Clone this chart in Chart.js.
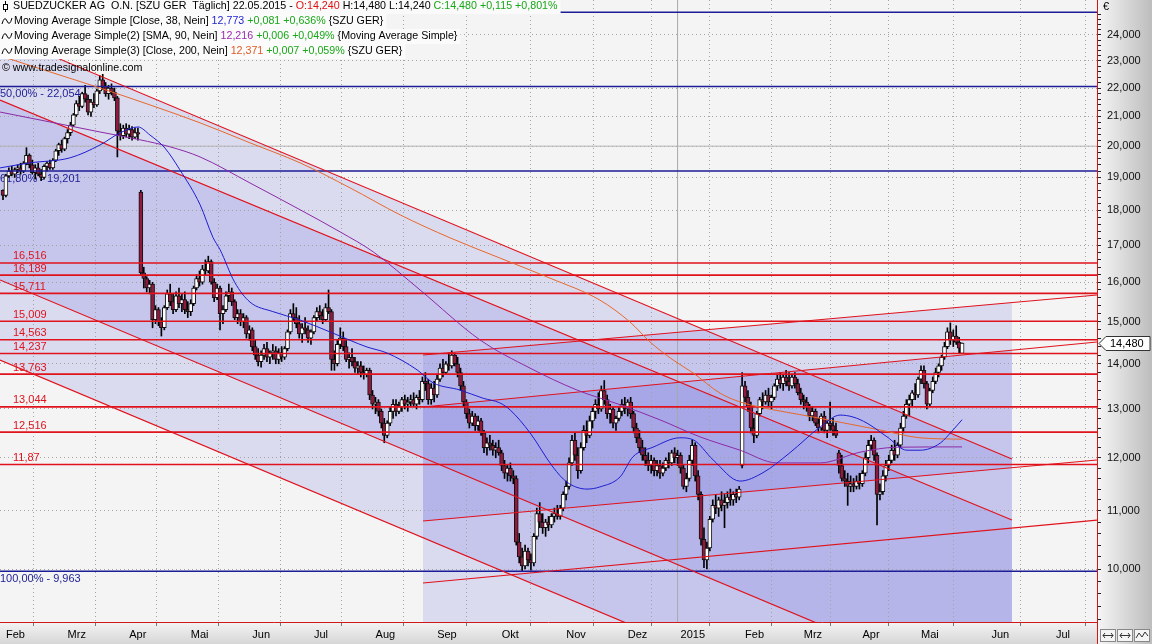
<!DOCTYPE html>
<html>
<head>
<meta charset="utf-8">
<script src="https://cdn.jsdelivr.net/npm/chart.js@4.4.1/dist/chart.umd.min.js"></script>
<style>
  html, body { margin: 0; padding: 0; background: #f4f4f4; overflow: hidden; }
  canvas { display: block; }
</style>
</head>
<body>
<canvas id="chart" width="1152" height="644"></canvas>
<script>
// SZU GER daily, Feb 2014 - 22.05.2015 (x = trading day index)
const MONTH_LABELS = ["Feb","Mrz","Apr","Mai","Jun","Jul","Aug","Sep","Okt","Nov","Dez","2015","Feb","Mrz","Apr","Mai","Jun","Jul"];
const MONTH_TICKS  = [0,21,42,63,84,105,126,147,169,191,212,230,252,272,292,312,336,358];
const YEAR_TICK = 230;

const OPEN = [
  18.60,18.45,19.05,19.20,19.10,19.25,19.30,19.20,19.45,19.70, 19.40,19.15,19.30,19.10,19.00,19.35,19.45,19.30,19.55,19.85,
  20.05,19.90,20.25,20.45,20.70,21.05,21.45,21.35,21.80,21.60, 21.15,21.50,21.40,21.90,22.30,22.05,21.80,22.00,21.85,21.65,
  20.50,20.35,20.60,20.40,20.55,20.30,20.45,18.55,16.25,16.10, 15.85,15.95,15.05,15.30,15.00,14.85,15.35,15.70,15.50,15.30,
  15.65,15.45,15.55,15.30,15.25,15.45,15.85,16.10,16.00,16.35, 16.30,16.55,16.00,15.60,15.85,15.20,15.30,15.65,15.75,15.50,
  15.10,15.20,15.00,15.10,14.70,14.80,14.40,14.20,14.05,14.20, 14.35,14.15,14.25,14.30,14.10,14.25,14.15,14.35,14.75,15.20,
  15.10,14.95,14.70,14.85,14.80,14.60,14.75,15.10,15.25,15.15, 15.05,15.35,15.25,14.10,14.00,14.45,14.60,14.40,14.10,14.15,
  14.05,13.90,13.95,13.80,13.75,13.85,13.30,13.10,13.15,12.95, 12.70,12.45,12.70,12.95,13.10,12.95,13.05,13.20,13.10,13.15,
  13.20,13.10,13.25,13.20,13.60,13.55,13.20,13.45,13.30,13.65, 13.90,13.80,14.00,13.95,14.20,14.00,13.80,13.50,13.15,12.90,
  12.70,12.85,12.65,12.75,12.50,12.20,12.30,12.25,12.15,12.20, 12.10,11.85,11.70,11.80,11.65,11.60,10.45,10.20,10.05,10.30,
  10.15,10.10,10.55,10.95,10.80,10.70,10.80,10.75,10.90,10.95, 10.90,11.05,11.30,11.45,11.90,12.35,12.05,11.75,12.20,12.55,
  12.45,12.75,12.95,13.10,13.00,13.40,13.20,12.90,13.00,12.70, 12.80,12.95,13.10,13.00,13.15,12.90,12.60,12.40,12.20,12.05,
  11.95,11.85,11.95,11.75,11.85,11.70,11.80,11.95,11.90,12.10, 12.00,12.05,11.80,11.45,11.60,11.95,12.25,11.65,11.30,10.50,
  10.15,10.35,10.85,11.10,11.05,11.20,11.10,11.15,11.25,11.20, 11.30,11.25,11.85,13.50,13.25,13.05,12.60,12.45,12.90,13.20,
  13.15,13.30,13.15,13.25,13.50,13.65,13.55,13.70,13.60,13.50, 13.70,13.55,13.35,13.20,13.15,13.05,12.85,12.95,12.70,12.60,
  12.85,12.55,12.70,12.65,12.55,12.10,11.85,11.60,11.55,11.45, 11.50,11.45,11.55,11.50,11.70,12.00,12.25,12.35,12.05,11.30,
  11.35,11.65,11.85,11.95,12.15,12.05,12.25,12.60,12.85,13.10, 13.20,13.35,13.30,13.65,13.85,13.55,13.10,13.40,13.60,13.80,
  13.95,14.15,14.40,14.75,14.55,14.65,14.50,14.24
];
const HIGH = [
  18.62,19.10,19.30,19.35,19.30,19.40,19.45,19.50,19.95,19.75, 19.55,19.40,19.45,19.25,19.40,19.50,19.55,19.60,19.90,20.10,
  20.20,20.30,20.55,20.80,21.10,21.55,21.70,21.85,22.10,21.75, 21.60,21.80,21.95,22.45,22.50,22.20,22.10,22.15,22.00,21.70,
  20.75,20.70,20.75,20.70,20.65,20.60,20.60,18.60,16.40,16.15, 16.05,16.00,15.40,15.35,15.10,15.40,15.80,15.95,15.70,15.75,
  15.85,15.70,15.75,15.50,15.55,15.90,16.20,16.30,16.45,16.60, 16.70,16.60,16.10,15.95,15.90,15.40,15.75,15.95,15.85,15.55,
  15.30,15.30,15.20,15.15,14.90,14.85,14.55,14.35,14.30,14.45, 14.50,14.30,14.45,14.40,14.35,14.40,14.40,14.80,15.30,15.45,
  15.35,15.15,14.95,15.10,14.90,14.80,15.15,15.35,15.40,15.30, 15.45,15.80,15.30,14.30,14.55,14.85,14.75,14.55,14.25,14.35,
  14.15,14.05,14.05,13.95,13.90,13.90,13.40,13.25,13.20,13.00, 12.80,12.75,13.05,13.20,13.20,13.15,13.25,13.30,13.25,13.30,
  13.35,13.30,13.40,13.70,13.80,13.65,13.55,13.60,13.75,14.00, 14.10,14.05,14.25,14.30,14.25,14.15,13.90,13.60,13.20,13.00,
  12.95,12.90,12.85,12.80,12.55,12.40,12.45,12.35,12.30,12.35, 12.15,11.95,11.85,11.90,11.75,11.65,10.60,10.35,10.40,10.35,
  10.25,10.60,11.05,11.15,10.95,10.85,10.90,10.95,11.05,11.10, 11.10,11.35,11.55,12.00,12.45,12.50,12.20,12.30,12.65,12.75,
  12.85,13.05,13.20,13.35,13.50,13.62,13.30,13.10,13.05,12.85, 13.05,13.20,13.25,13.20,13.25,12.95,12.70,12.55,12.35,12.20,
  12.10,12.05,12.00,11.95,11.95,11.90,12.00,12.10,12.15,12.20, 12.15,12.10,11.85,11.70,12.05,12.35,12.30,11.75,11.35,10.70,
  10.45,10.90,11.20,11.30,11.25,11.35,11.30,11.35,11.40,11.35, 11.40,11.45,13.80,13.60,13.40,13.15,12.80,12.95,13.25,13.35,
  13.40,13.45,13.30,13.55,13.75,13.80,13.75,13.85,13.80,13.75, 13.80,13.65,13.45,13.30,13.25,13.10,13.05,13.00,12.80,12.90,
  12.95,12.75,13.15,12.80,12.70,12.15,12.05,11.75,11.70,11.65, 11.60,11.65,11.70,11.75,12.10,12.35,12.45,12.40,12.10,11.50,
  11.75,11.95,12.05,12.25,12.35,12.30,12.70,12.95,13.20,13.30, 13.40,13.55,13.70,13.95,13.95,13.60,13.45,13.70,13.90,14.00,
  14.20,14.50,14.85,14.97,14.80,14.90,14.62,14.48
];
const LOW = [
  18.32,18.40,19.00,19.05,19.00,19.15,19.10,19.15,19.40,19.30, 19.10,18.95,19.05,18.90,18.95,19.20,19.25,19.25,19.50,19.70,
  19.80,19.85,20.10,20.35,20.65,21.00,21.20,21.30,21.50,21.05, 21.00,21.30,21.35,21.80,21.95,21.70,21.60,21.75,21.55,19.65,
  20.20,20.25,20.30,20.25,20.20,20.25,20.20,16.20,15.85,15.75, 15.70,14.85,14.95,14.90,14.65,14.80,15.30,15.40,15.20,15.25,
  15.35,15.25,15.20,15.10,15.15,15.40,15.80,15.90,15.95,16.20, 16.25,15.95,15.50,15.55,14.80,14.95,15.25,15.50,15.40,15.05,
  14.95,14.90,14.85,14.60,14.55,14.30,14.10,13.95,13.92,14.10, 14.05,14.00,14.10,14.00,14.00,14.05,14.10,14.30,14.70,15.00,
  14.85,14.60,14.50,14.70,14.50,14.45,14.70,15.00,15.05,14.95, 15.00,15.20,13.85,13.85,13.95,14.35,14.30,14.05,13.90,13.95,
  13.80,13.75,13.70,13.65,13.70,13.20,13.00,12.90,12.85,12.60, 12.30,12.40,12.65,12.80,12.85,12.90,12.95,13.00,12.95,13.05,
  13.05,13.00,13.10,13.15,13.40,13.10,13.10,13.15,13.25,13.60, 13.70,13.75,13.85,13.90,13.95,13.70,13.40,13.05,12.80,12.60,
  12.65,12.55,12.55,12.45,12.10,12.05,12.15,12.05,12.00,12.05, 11.75,11.60,11.55,11.55,11.50,10.40,10.10,9.96,10.00,10.05,
  9.98,10.05,10.50,10.70,10.60,10.55,10.65,10.70,10.80,10.85, 10.85,11.00,11.20,11.40,11.85,11.95,11.60,11.70,12.15,12.30,
  12.40,12.60,12.80,12.90,12.95,13.10,12.80,12.70,12.60,12.55, 12.75,12.85,12.90,12.85,12.80,12.50,12.30,12.10,11.95,11.85,
  11.75,11.70,11.65,11.65,11.60,11.65,11.75,11.80,11.85,11.90, 11.85,11.70,11.40,11.35,11.55,11.85,11.55,11.20,10.40,10.02,
  10.00,10.30,10.80,10.95,10.90,11.00,10.70,11.05,11.10,11.10, 11.15,11.20,11.80,13.15,12.95,12.50,12.30,12.40,12.85,13.00,
  13.10,13.05,13.00,13.20,13.40,13.45,13.40,13.50,13.40,13.45, 13.45,13.30,13.10,13.00,12.95,12.75,12.75,12.65,12.50,12.55,
  12.50,12.40,12.55,12.45,12.40,11.70,11.55,11.45,11.10,11.35, 11.35,11.40,11.40,11.45,11.65,11.90,12.15,11.95,10.75,11.20,
  11.30,11.55,11.75,11.90,11.95,12.00,12.20,12.50,12.80,12.85, 13.05,13.20,13.25,13.55,13.45,13.00,13.05,13.35,13.55,13.70,
  13.85,14.10,14.35,14.45,14.40,14.45,14.25,14.24
];
const CLOSE = [
  18.45,19.05,19.20,19.10,19.25,19.30,19.20,19.45,19.70,19.40, 19.15,19.30,19.10,19.00,19.35,19.45,19.30,19.55,19.85,20.05,
  19.90,20.25,20.45,20.70,21.05,21.45,21.35,21.80,21.60,21.15, 21.50,21.40,21.90,22.30,22.05,21.80,22.00,21.85,21.65,20.50,
  20.35,20.60,20.40,20.55,20.30,20.45,20.40,16.25,16.10,15.85, 15.95,15.05,15.30,15.00,14.85,15.35,15.70,15.50,15.30,15.65,
  15.45,15.55,15.30,15.25,15.45,15.85,16.10,16.00,16.35,16.30, 16.55,16.00,15.60,15.85,15.20,15.30,15.65,15.75,15.50,15.10,
  15.20,15.00,15.10,14.70,14.80,14.40,14.20,14.05,14.20,14.35, 14.15,14.25,14.30,14.10,14.25,14.15,14.35,14.75,15.20,15.10,
  14.95,14.70,14.85,14.80,14.60,14.75,15.10,15.25,15.15,15.05, 15.35,15.25,14.10,14.00,14.45,14.60,14.40,14.10,14.15,14.05,
  13.90,13.95,13.80,13.75,13.85,13.30,13.10,13.15,12.95,12.70, 12.45,12.70,12.95,13.10,12.95,13.05,13.20,13.10,13.15,13.20,
  13.10,13.25,13.20,13.60,13.55,13.20,13.45,13.30,13.65,13.90, 13.80,14.00,13.95,14.20,14.00,13.80,13.50,13.15,12.90,12.70,
  12.85,12.65,12.75,12.50,12.20,12.30,12.25,12.15,12.20,12.10, 11.85,11.70,11.80,11.65,11.60,10.45,10.20,10.05,10.30,10.15,
  10.10,10.55,10.95,10.80,10.70,10.80,10.75,10.90,10.95,10.90, 11.05,11.30,11.45,11.90,12.35,12.05,11.75,12.20,12.55,12.45,
  12.75,12.95,13.10,13.00,13.40,13.20,12.90,13.00,12.70,12.80, 12.95,13.10,13.00,13.15,12.90,12.60,12.40,12.20,12.05,11.95,
  11.85,11.95,11.75,11.85,11.70,11.80,11.95,11.90,12.10,12.00, 12.05,11.80,11.45,11.60,11.95,12.25,11.65,11.30,10.50,10.15,
  10.35,10.85,11.10,11.05,11.20,11.10,11.15,11.25,11.20,11.30, 11.25,11.40,13.50,13.25,13.05,12.60,12.45,12.90,13.20,13.15,
  13.30,13.15,13.25,13.50,13.65,13.55,13.70,13.60,13.50,13.70, 13.55,13.35,13.20,13.15,13.05,12.85,12.95,12.70,12.60,12.85,
  12.55,12.70,12.65,12.55,12.45,11.85,11.60,11.55,11.45,11.50, 11.45,11.55,11.50,11.70,12.00,12.25,12.35,12.05,11.30,11.35,
  11.65,11.85,11.95,12.15,12.05,12.25,12.60,12.85,13.10,13.20, 13.35,13.30,13.65,13.85,13.55,13.10,13.40,13.60,13.80,13.95,
  14.15,14.40,14.75,14.55,14.65,14.50,14.365,14.48
];

// moving averages: [day index, value]
const SMA38 = [[-1,19.30],[9.2,19.46],[22.8,19.62],[33.1,20.04],[39.9,20.44],[46,20.64],[50.1,20.37],[55.2,19.94],[60.3,19.24],[67.2,18.17],
  [71.6,17.22],[74,16.88],[79,16.0],[84.2,15.49],[92,15.25],[101.3,15.04],[112.5,14.72],[124.1,14.39],[130.9,14.25],[141.2,13.86],
  [146.6,13.57],[155.8,13.41],[163.7,13.23],[169.4,13.13],[172.9,12.98],[179.7,12.50],[187.5,11.82],[192.3,11.53],[199.1,11.40],[203.5,11.44],
  [210.4,11.63],[214.8,12.02],[221.6,12.21],[230.8,12.40],[235.3,12.36],[242.1,11.96],[251.3,11.55],[259.1,11.71],[268.3,12.10],[278.6,12.62],
  [285.4,12.87],[289.8,12.83],[294.6,12.70],[301.4,12.42],[308.2,12.15],[312.7,12.15],[319.5,12.29],[323.9,12.56],[327,12.773]];
const SMA90 = [[-1,21.15],[16,20.81],[33.1,20.47],[46.7,20.21],[56.9,19.98],[67.2,19.65],[84.2,18.83],[101.3,18.02],[114.9,17.38],[126.2,16.82],
  [142.2,15.80],[162.6,14.56],[179.7,13.90],[195.7,13.41],[210.4,13.09],[224,12.77],[237.6,12.42],[251.3,12.15],[263.9,11.90],[278.6,11.90],
  [292.2,12.11],[304.8,12.21],[327,12.216]];
const SMA200 = [[-1,23.19],[16,22.59],[33.1,22.00],[50.1,21.40],[67.2,20.78],[84.2,20.11],[101.3,19.46],[118.3,18.68],[135.4,17.87],[152.4,17.21],
  [169.4,16.65],[186.5,16.11],[203.5,15.54],[213.8,14.99],[220.6,14.51],[228.4,14.09],[235.3,13.79],[244.5,13.34],[251.3,13.15],[258.1,13.04],
  [276.2,12.83],[299,12.56],[312.6,12.40],[327,12.371]];

// retracement levels
const FIB_BLUE = [24.908, 22.054, 19.201, 9.963];
const FIB_BLUE_LABELS = ["", "50,00% - 22,054", "61,80% - 19,201", "100,00% - 9,963"];
const FIB_RED = [16.516, 16.189, 15.711, 15.009, 14.563, 14.237, 13.763, 13.044, 12.516, 11.87];
const FIB_RED_LABELS = ["16,516","16,189","15,711","15,009","14,563","14,237","13,763","13,044","12,516","11,87"];
const GRAY_LEVEL = 20.0;

// channel lines [[x0,y0],[x1,y1]]
const CHANNEL_DOWN = [
  [[-1.02, 24.04], [344, 11.976]],
  [[-1.02, 21.573], [344, 10.836]],
  [[-1.02, 16.061], [344, 8.001]],
  [[-1.02, 14.086], [344, 7.018]]
];
const CHANNEL_UP = [
  [[143.2, 14.202], [373, 15.670]],
  [[143.2, 13.042], [373, 14.508]],
  [[143.2, 10.819], [373, 11.957]],
  [[143.2, 9.773], [373, 10.836]]
];
// shaded channel areas (polygons)
const SHADES = [
  [[-1.02, 24.04], [344, 11.976], [344, 7.018], [-1.02, 14.086]],
  [[-1.02, 21.573], [344, 10.836], [344, 8.001], [-1.02, 16.061]],
  [[143.2, 14.202], [344, 15.477], [344, 10.696], [143.2, 9.773]],
  [[143.2, 13.042], [344, 14.315], [344, 11.807], [143.2, 10.819]],
  [[143.2, 9.773], [344, 10.696], [344, 9.0], [143.2, 9.0]]
];

const X_MIN = -1.02, X_MAX = 373;
const Y_MIN = 9.168, Y_MAX = 25.415;
const Y_MAJOR = [10,11,12,13,14,15,16,17,18,19,20,21,22,23,24];
const LAST = 14.48;

const FONT_FAMILY = '"Liberation Sans", Arial, sans-serif';
const FONT = '11px ' + FONT_FAMILY;
const LEGEND_FONT = '10.7px ' + FONT_FAMILY;
const RED = '#e0121c', NAVY = '#1c1c96';

function fmt(v, d) { return v.toFixed(d).replace('.', ','); }
const yTicks = [];
for (let k = 46; k <= 124; k++) yTicks.push(k / 5);
const isMajor = v => Math.abs(v - Math.round(v)) < 1e-6;

function seg(p, color, width, order) {
  return { type: 'line', data: p.map(([x, y]) => ({ x, y })), borderColor: color, borderWidth: width,
    pointRadius: 0, fill: false, tension: 0, order };
}
function ma(points, color) {
  return { type: 'line', data: points.map(([x, y]) => ({ x, y })), borderColor: color, borderWidth: 1,
    pointRadius: 0, fill: false, cubicInterpolationMode: 'monotone', order: 1 };
}

const datasets = [];
datasets.push(ma(SMA38, '#1e1ed2'));
datasets.push(ma(SMA90, '#8c2aa6'));
datasets.push(ma(SMA200, '#e8682a'));
CHANNEL_DOWN.forEach(l => datasets.push(seg(l, RED, 1.2, 2)));
CHANNEL_UP.forEach(l => datasets.push(seg(l, RED, 1.2, 2)));
FIB_RED.forEach(v => datasets.push(seg([[X_MIN, v], [X_MAX, v]], RED, 1.6, 3)));
FIB_BLUE.forEach(v => datasets.push(seg([[X_MIN, v], [X_MAX, v]], NAVY, 1.4, 3)));
datasets.push(seg([[X_MIN, GRAY_LEVEL], [X_MAX, GRAY_LEVEL]], '#b4b4b4', 1, 8));
datasets.push(seg([[YEAR_TICK, Y_MIN], [YEAR_TICK, Y_MAX]], '#a8a8a8', 1, 8));

// candle bodies and wicks
datasets.push({
  type: 'bar', order: 5, grouped: false, barThickness: 4, minBarLength: 1,
  data: OPEN.map((o, i) => ({ x: i, y: [o, CLOSE[i]] })),
  backgroundColor: OPEN.map((o, i) => CLOSE[i] >= o ? '#ffffff' : '#901a3e'),
  borderColor: '#111', borderWidth: 1, borderSkipped: false
});
datasets.push({
  type: 'bar', order: 6, grouped: false, barThickness: 1,
  data: OPEN.map((o, i) => ({ x: i, y: [LOW[i], HIGH[i]] })),
  backgroundColor: '#000', borderWidth: 0
});

const backdrop = {
  id: 'backdrop',
  beforeDraw(chart) {
    const { ctx, chartArea: a } = chart;
    const xs = chart.scales.x, ys = chart.scales.y;
    ctx.save();
    ctx.fillStyle = '#f4f4f4';
    ctx.fillRect(0, 0, chart.width, chart.height);
    let g = ctx.createLinearGradient(a.right, 0, chart.width, 0);
    g.addColorStop(0, '#f6f6f6'); g.addColorStop(1, '#bdbdbd');
    ctx.fillStyle = g; ctx.fillRect(a.right, 0, chart.width - a.right, chart.height);
    g = ctx.createLinearGradient(0, a.bottom, 0, chart.height);
    g.addColorStop(0, '#f4f4f4'); g.addColorStop(1, '#d6d6d6');
    ctx.fillStyle = g; ctx.fillRect(0, a.bottom, a.right, chart.height - a.bottom);
    ctx.beginPath(); ctx.rect(a.left, a.top, a.right - a.left, a.bottom - a.top); ctx.clip();
    ctx.fillStyle = 'rgba(108,108,222,0.18)';
    SHADES.forEach(poly => {
      ctx.beginPath();
      poly.forEach(([x, y], i) => {
        const px = xs.getPixelForValue(x), py = ys.getPixelForValue(y);
        i ? ctx.lineTo(px, py) : ctx.moveTo(px, py);
      });
      ctx.closePath(); ctx.fill();
    });
    ctx.restore();
  },
  beforeDatasetsDraw(chart) {
    const { ctx } = chart;
    const ys = chart.scales.y;
    ctx.save();
    ctx.font = FONT;
    ctx.fillStyle = RED; ctx.textBaseline = 'bottom';
    FIB_RED.forEach((v, i) => ctx.fillText(FIB_RED_LABELS[i], 13, ys.getPixelForValue(v) - 1));
    ctx.fillStyle = NAVY; ctx.textBaseline = 'top';
    FIB_BLUE.forEach((v, i) => ctx.fillText(FIB_BLUE_LABELS[i], 0, ys.getPixelForValue(v) + 2));
    ctx.restore();
  }
};

function textRow(ctx, x, y, parts, bg) {
  ctx.font = LEGEND_FONT; ctx.textBaseline = 'middle';
  const w = parts.reduce((s, p) => s + ctx.measureText(p[0]).width, 0);
  if (bg) { ctx.fillStyle = bg; ctx.fillRect(0, y - 7, x + w + 3, 15); }
  parts.forEach(([t, c]) => { ctx.fillStyle = c; ctx.fillText(t, x, y); x += ctx.measureText(t).width; });
}
function waveIcon(ctx, x, y) {
  ctx.strokeStyle = '#000'; ctx.lineWidth = 1;
  ctx.beginPath(); ctx.moveTo(x, y + 3);
  ctx.quadraticCurveTo(x + 2.5, y - 6, x + 5, y);
  ctx.quadraticCurveTo(x + 7.5, y + 6, x + 10, y - 3);
  ctx.stroke();
}

const overlay = {
  id: 'overlay',
  afterDraw(chart) {
    const { ctx, chartArea: a } = chart;
    const ys = chart.scales.y;
    ctx.save();
    // plot borders
    ctx.strokeStyle = '#d01818'; ctx.lineWidth = 1;
    ctx.beginPath(); ctx.moveTo(a.right + 0.5, 0); ctx.lineTo(a.right + 0.5, chart.height); ctx.stroke();
    ctx.beginPath(); ctx.moveTo(0, a.bottom + 0.5); ctx.lineTo(a.right, a.bottom + 0.5); ctx.stroke();

    // header + legend
    const green = '#18a818';
    textRow(ctx, 13, 6, [["SUEDZUCKER AG  O.N. [SZU GER  Täglich] 22.05.2015 - ", '#000'], ["O:14,240", '#e01010'],
      [" H:14,480 L:14,240 ", '#000'], ["C:14,480 +0,115 +0,801%", green]], '#fafafa');
    ctx.strokeStyle = '#000'; ctx.lineWidth = 1;
    ctx.beginPath(); ctx.moveTo(5.5, 1); ctx.lineTo(5.5, 12); ctx.stroke();
    ctx.fillStyle = '#fff'; ctx.fillRect(3.5, 4.5, 4, 5); ctx.strokeRect(3.5, 4.5, 4, 5);
    textRow(ctx, 14, 21, [["Moving Average Simple [Close, 38, Nein] ", '#000'], ["12,773", '#1e1ed2'],
      [" +0,081 +0,636%", green], [" {SZU GER}", '#000']], '#fbfbfb');
    textRow(ctx, 14, 36, [["Moving Average Simple(2) [SMA, 90, Nein] ", '#000'], ["12,216", '#9a2ab0'],
      [" +0,006 +0,049%", green], [" {Moving Average Simple}", '#000']], '#fbfbfb');
    textRow(ctx, 14, 51, [["Moving Average Simple(3) [Close, 200, Nein] ", '#000'], ["12,371", '#e05a24'],
      [" +0,007 +0,059%", green], [" {SZU GER}", '#000']], '#fbfbfb');
    waveIcon(ctx, 2, 21); waveIcon(ctx, 2, 36); waveIcon(ctx, 2, 51);
    textRow(ctx, 2, 68, [["© www.tradesignalonline.com", '#000']]);

    // axis extras
    ctx.font = FONT; ctx.fillStyle = '#000'; ctx.textBaseline = 'middle';
    ctx.fillText('€', a.right + 6, 7);
    // last price tag
    const py = Math.round(ys.getPixelForValue(LAST)) + 0.5;
    ctx.beginPath();
    ctx.moveTo(a.right + 2, py); ctx.lineTo(a.right + 9, py - 7); ctx.lineTo(chart.width - 2, py - 7);
    ctx.lineTo(chart.width - 2, py + 7); ctx.lineTo(a.right + 9, py + 7); ctx.closePath();
    ctx.fillStyle = '#fff'; ctx.fill(); ctx.strokeStyle = '#333'; ctx.stroke();
    ctx.fillStyle = '#000'; ctx.fillText(fmt(LAST, 3), a.right + 13, py);
    // small buttons bottom right
    ctx.strokeStyle = '#888';
    for (let i = 0; i < 3; i++) {
      const bx = a.right + 3 + i * 17;
      ctx.fillStyle = '#f4f4f4'; ctx.fillRect(bx + 0.5, 629.5, 15, 12); ctx.strokeRect(bx + 0.5, 629.5, 15, 12);
      ctx.strokeStyle = '#333'; ctx.beginPath();
      if (i < 2) { ctx.moveTo(bx + 3, 635.5); ctx.lineTo(bx + 13, 635.5); ctx.moveTo(bx + 5, 633); ctx.lineTo(bx + 3, 635.5); ctx.lineTo(bx + 5, 638);
        ctx.moveTo(bx + 11, 633); ctx.lineTo(bx + 13, 635.5); ctx.lineTo(bx + 11, 638); }
      else { ctx.moveTo(bx + 2, 638); ctx.lineTo(bx + 5, 633); ctx.lineTo(bx + 8, 637); ctx.lineTo(bx + 11, 632); ctx.lineTo(bx + 14, 636); }
      ctx.stroke(); ctx.strokeStyle = '#888';
    }
    ctx.restore();
  }
};

function noPad(s) { s.paddingTop = 0; s.paddingBottom = 0; s.paddingLeft = 0; s.paddingRight = 0; }

new Chart(document.getElementById('chart'), {
  type: 'bar',
  data: { datasets },
  options: {
    responsive: false, animation: false, events: [],
    layout: { padding: 0 },
    plugins: { legend: { display: false }, tooltip: { enabled: false } },
    scales: {
      x: {
        type: 'linear', min: X_MIN, max: X_MAX, offset: false,
        afterBuildTicks: s => { s.ticks = MONTH_TICKS.map(v => ({ value: v })); },
        afterFit: s => { s.height = 22; noPad(s); },
        ticks: { autoSkip: false, maxRotation: 0, align: 'start', labelOffset: 3, padding: 2, color: '#000',
          font: { family: FONT_FAMILY, size: 11 },
          callback: v => { const i = MONTH_TICKS.indexOf(v); return i < 0 ? '' : MONTH_LABELS[i]; } },
        grid: { color: '#a2a2a2', lineWidth: 1, tickLength: 4, tickColor: '#777', tickBorderDash: [] },
        border: { display: false, dash: [1, 3] }
      },
      y: {
        type: 'logarithmic', position: 'right', min: Y_MIN, max: Y_MAX,
        afterBuildTicks: s => { s.ticks = yTicks.map(v => ({ value: v })); },
        afterFit: s => { s.width = 55; noPad(s); },
        ticks: { autoSkip: false, padding: 6, color: '#111', font: { family: FONT_FAMILY, size: 11 },
          callback: v => (isMajor(v) && Y_MAJOR.includes(Math.round(v))) ? fmt(v, 3) : '' },
        grid: { color: c => (c.tick && isMajor(c.tick.value)) ? '#a2a2a2' : 'rgba(0,0,0,0)',
          lineWidth: 1, tickLength: 4, tickColor: '#222', tickBorderDash: [] },
        border: { display: false, dash: [1, 3] }
      }
    }
  },
  plugins: [backdrop, overlay]
});
</script>
</body>
</html>
